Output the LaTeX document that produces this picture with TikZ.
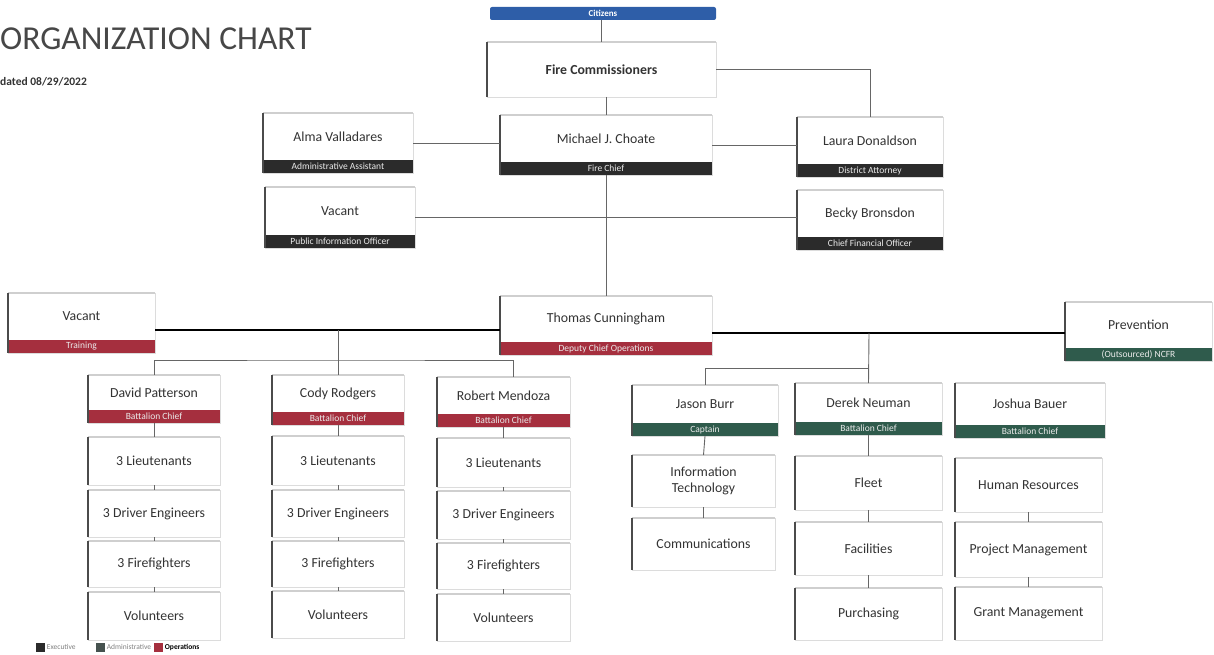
\documentclass[tikz,border=0pt]{standalone}
\usepackage{fontspec}
\setmainfont{Carlito}
\usetikzlibrary{calc}
\definecolor{execc}{HTML}{2B2B2B}
\definecolor{opc}{HTML}{A52F3E}
\definecolor{admc}{HTML}{2F5B4C}
\definecolor{admleg}{HTML}{46524F}
\definecolor{citc}{HTML}{2E5EA8}
\definecolor{edgec}{HTML}{DCDCDC}
\definecolor{topc}{HTML}{CFCFCF}
\definecolor{linec}{HTML}{666666}
\definecolor{txtc}{HTML}{333333}
\tikzset{
  orgbox/.style={draw=edgec, line width=0.6pt, fill=white, inner sep=0pt, outer sep=0pt},
  topedge/.style={draw=topc, line width=2.5pt},
  leftedge/.style={draw=execc!85, line width=2pt},
  bandsty/.style={inner sep=0pt, outer sep=0pt, minimum height=13pt, text=white!92!black,
    font=\fontsize{9.5}{10}\selectfont, anchor=south},
  nametext/.style={font=\fontsize{13.8}{15.5}\selectfont, text=txtc, align=center, inner sep=0pt},
  conn/.style={draw=linec, line width=0.9pt},
  thickconn/.style={draw=black, line width=2pt},
  legbox/.style={minimum size=9pt, inner sep=0pt},
  legtext/.style={anchor=west, font=\fontsize{7.5}{8}\selectfont, text=gray, inner sep=2pt}
}
% id, x1, y1, x2, y2, band colour, band text, name
\newcommand\orgnode[8]{%
  \node[orgbox, minimum width={#4-#2}, minimum height={#5-#3}] (#1) at ({(#2+#4)/2},{(#3+#5)/2}) {};
  \draw[topedge] (#1.north west) -- (#1.north east);
  \node[bandsty, fill=#6, minimum width={#4-#2}] (#1-band) at (#1.south) {#7};
  \draw[leftedge] (#1.north west) -- (#1.south west);
  \node[nametext] (#1-name) at ($(#1.north)!0.5!(#1-band.north)$) {#8};
}
% id, x1, y1, x2, y2, text
\newcommand\subnode[6]{%
  \node[orgbox, minimum width={#4-#2}, minimum height={#5-#3}] (#1) at ({(#2+#4)/2},{(#3+#5)/2}) {};
  \draw[topedge] (#1.north west) -- (#1.north east);
  \draw[leftedge] (#1.north west) -- (#1.south west);
  \node[nametext] (#1-name) at (#1.center) {#6};
}
\begin{document}
\begin{tikzpicture}[x=1pt, y=-1pt]
\useasboundingbox (0,0) rectangle (1214,655);

% title
\node[anchor=base west, font=\fontsize{33.5}{36}\selectfont, text=txtc!90!white, inner sep=0pt] (title) at (0,50) {ORGANIZATION CHART};
\node[anchor=base west, font=\bfseries\fontsize{11.5}{12}\selectfont, text=txtc, inner sep=0pt] (date) at (0,86) {dated 08/29/2022};

% top
\node[fill=citc, rounded corners=2pt, minimum width=226pt, minimum height=13pt, inner sep=0pt,
      text=white, font=\bfseries\fontsize{9}{9}\selectfont] (cit) at (603,13.5) {Citizens};
\subnode{fc}{487}{42}{716}{97}{\textbf{Fire Commissioners}}

\orgnode{mc}{500}{115}{712}{175}{execc}{Fire Chief}{Michael J. Choate}
\orgnode{al}{263}{113}{413}{173}{execc}{Administrative Assistant}{Alma Valladares}
\orgnode{pio}{265}{187}{415}{248}{execc}{Public Information Officer}{Vacant}
\orgnode{ld}{797}{117}{943}{177}{execc}{District Attorney}{Laura Donaldson}
\orgnode{bb}{797}{190}{943}{250}{execc}{Chief Financial Officer}{Becky Bronsdon}

\orgnode{tc}{500}{296}{712}{355}{opc}{Deputy Chief Operations}{Thomas Cunningham}
\orgnode{tr}{8}{293}{155}{353}{opc}{Training}{Vacant}
\orgnode{pv}{1065}{302}{1212}{361}{admc}{(Outsourced) NCFR}{Prevention}

% battalions
\orgnode{dp}{88}{375}{220}{423}{opc}{Battalion Chief}{David Patterson}
\orgnode{cr}{272}{375}{404}{425}{opc}{Battalion Chief}{Cody Rodgers}
\orgnode{rm}{437}{377}{570}{427}{opc}{Battalion Chief}{Robert Mendoza}
\orgnode{jbu}{632}{385}{778}{436}{admc}{Captain}{Jason Burr}
\orgnode{dn}{795}{383}{942}{435}{admc}{Battalion Chief}{Derek Neuman}
\orgnode{jba}{955}{383}{1105}{438}{admc}{Battalion Chief}{Joshua Bauer}

\subnode{dp1}{88}{437}{220}{485}{3 Lieutenants}
\subnode{dp2}{88}{490}{220}{537}{3 Driver Engineers}
\subnode{dp3}{88}{541}{220}{587}{3 Firefighters}
\subnode{dp4}{88}{592}{220}{640}{Volunteers}

\subnode{cr1}{272}{436}{404}{485}{3 Lieutenants}
\subnode{cr2}{272}{490}{404}{537}{3 Driver Engineers}
\subnode{cr3}{272}{541}{404}{587}{3 Firefighters}
\subnode{cr4}{272}{591}{404}{638}{Volunteers}

\subnode{rm1}{437}{438}{570}{487}{3 Lieutenants}
\subnode{rm2}{437}{491}{570}{539}{3 Driver Engineers}
\subnode{rm3}{437}{543}{570}{589}{3 Firefighters}
\subnode{rm4}{437}{594}{570}{641}{Volunteers}

\subnode{jbu1}{632}{455}{775}{507}{Information\\Technology}
\subnode{jbu2}{632}{518}{775}{570}{Communications}

\subnode{dn1}{795}{456}{942}{510}{Fleet}
\subnode{dn2}{795}{522}{942}{575}{Facilities}
\subnode{dn3}{795}{588}{942}{640}{Purchasing}

\subnode{jba1}{955}{458}{1102}{512}{Human Resources}
\subnode{jba2}{955}{522}{1102}{577}{Project Management}
\subnode{jba3}{955}{587}{1102}{640}{Grant Management}

% connectors
\draw[conn] (cit.south -| fc.north) -- (fc.north);
\draw[conn] (fc.east) -| (ld.north);
\draw[conn] (fc.south -| mc.north) -- (mc.north);
\draw[conn] (al.east) -- (al.east -| mc.west);
\draw[conn] (mc.east) -- (mc.east -| ld.west);
\draw[conn] (pio.east) -- (pio.east -| bb.west);
\draw[conn] (mc-band.south) -- (tc.north);

\coordinate (lj) at (338,330);
\coordinate (lk) at (338,360);
\coordinate (rj) at (869,333);
\coordinate (rk) at (869,368);
\draw[thickconn] (tr.east |- lj) -- (tc.west |- lj);
\draw[thickconn] (tc.east |- rj) -- (pv.west |- rj);
\draw[conn] (lj) -- (lk);
\draw[conn] (dp.north) |- (lk) -| ([xshift=10pt]rm.north);
\draw[conn] (lk) -- (cr.north);
\draw[conn] (rj) -- (dn.north);
\draw[conn] (jbu.north) |- (rk);

\foreach \a/\b in {dp-band/dp1, dp1/dp2, dp2/dp3, dp3/dp4,
                   cr-band/cr1, cr1/cr2, cr2/cr3, cr3/cr4,
                   rm-band/rm1, rm1/rm2, rm2/rm3, rm3/rm4,
                   jbu-band/jbu1, jbu1/jbu2,
                   dn-band/dn1, dn1/dn2, dn2/dn3,
                   jba1/jba2, jba2/jba3}
  \draw[conn] (\a.south) -- (\b.north);

% legend
\node[legbox, fill=execc] (lg1) at (40,647) {};
\node[legtext] (lg1t) at (lg1.east) {Executive};
\node[legbox, fill=admleg] (lg2) at (100,647) {};
\node[legtext] (lg2t) at (lg2.east) {Administrative};
\node[legbox, fill=opc] (lg3) at (158,647) {};
\node[legtext, text=black, font=\bfseries\fontsize{7.5}{8}\selectfont] (lg3t) at (lg3.east) {Operations};
\end{tikzpicture}
\end{document}
